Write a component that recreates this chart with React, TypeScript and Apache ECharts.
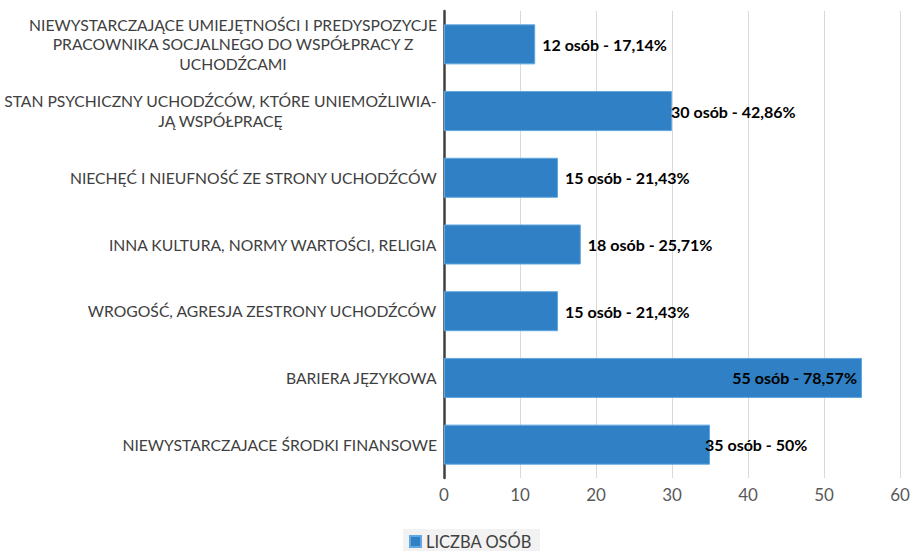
import React, { useEffect, useRef } from "react";
import * as echarts from "echarts";

const categories = [
  "NIEWYSTARCZAJĄCE UMIEJĘTNOŚCI I PREDYSPOZYCJE\nPRACOWNIKA SOCJALNEGO DO WSPÓŁPRACY Z\nUCHODŹCAMI",
  "STAN PSYCHICZNY UCHODŹCÓW, KTÓRE UNIEMOŻLIWIA-\nJĄ WSPÓŁPRACĘ",
  "NIECHĘĆ I NIEUFNOŚĆ ZE STRONY UCHODŹCÓW",
  "INNA KULTURA, NORMY WARTOŚCI, RELIGIA",
  "WROGOŚĆ, AGRESJA ZESTRONY UCHODŹCÓW",
  "BARIERA JĘZYKOWA",
  "NIEWYSTARCZAJACE ŚRODKI FINANSOWE",
];
const values = [12, 30, 15, 18, 15, 55, 35];
const percents = ["17,14%", "42,86%", "21,43%", "25,71%", "21,43%", "78,57%", "50%"];
const labelPlacement = ["right", "right", "right", "right", "right", "insideRight", "right"];
const labelDistance = [7, -1, 7, 7, 7, 5, -5];
const seriesName = "LICZBA OSÓB";

const FONT = "Lato, 'Noto Sans', sans-serif";

export default function App() {
  const ref = useRef<HTMLDivElement>(null);
  useEffect(() => {
    if (!ref.current) return;
    const chart = echarts.init(ref.current, undefined, { renderer: "svg" });
    chart.setOption({
      animation: false,
      backgroundColor: "#ffffff",
      textStyle: { fontFamily: FONT },
      grid: {
        left: 444,
        right: 11,
        top: 11,
        bottom: 73,
        containLabel: false,
        outerBoundsMode: "none",
      },
      legend: {
        left: 403,
        top: 529,
        padding: [4, 8, 6, 6],
        backgroundColor: "#f2f2f2",
        icon: "rect",
        itemWidth: 11,
        itemHeight: 11,
        itemGap: 6,
        textStyle: { fontFamily: FONT, fontSize: 16.5, color: "#404040" },
        data: [seriesName],
      },
      xAxis: {
        type: "value",
        min: 0,
        max: 60,
        interval: 10,
        axisLine: { show: false },
        axisTick: { show: false },
        splitLine: { show: true, lineStyle: { color: "#d9d9d9", width: 1 } },
        axisLabel: { fontFamily: FONT, fontSize: 17, color: "#595959", margin: 8 },
      },
      yAxis: {
        type: "category",
        inverse: true,
        data: categories,
        axisLine: { show: true, lineStyle: { color: "#404040", width: 2.5 } },
        axisTick: { show: false },
        axisLabel: {
          margin: 7,
          formatter: (v: string) =>
            v
              .split("\n")
              .map((l) => `{c|${l}}`)
              .join("\n"),
          rich: {
            c: {
              fontFamily: FONT,
              fontSize: 15.7,
              color: "#404040",
              align: "center",
              lineHeight: 19.5,
            },
          },
        },
      },
      series: [
        {
          name: seriesName,
          type: "bar",
          barCategoryGap: "40%",
          itemStyle: { color: "#2f80c4", borderColor: "#62a7df", borderWidth: 1 },
          data: values.map((v, i) => ({
            value: v,
            label: {
              show: true,
              position: labelPlacement[i],
              distance: labelDistance[i],
              formatter: `${v} osób - ${percents[i]}`,
              fontFamily: FONT,
              fontSize: 16,
              fontWeight: "bold",
              color: "#000000",
            },
          })),
        },
      ],
    });
    return () => chart.dispose();
  }, []);
  return (
    <div
      ref={ref}
      style={{ position: "fixed", left: 0, top: 0, width: 911, height: 551 }}
    />
  );
}
